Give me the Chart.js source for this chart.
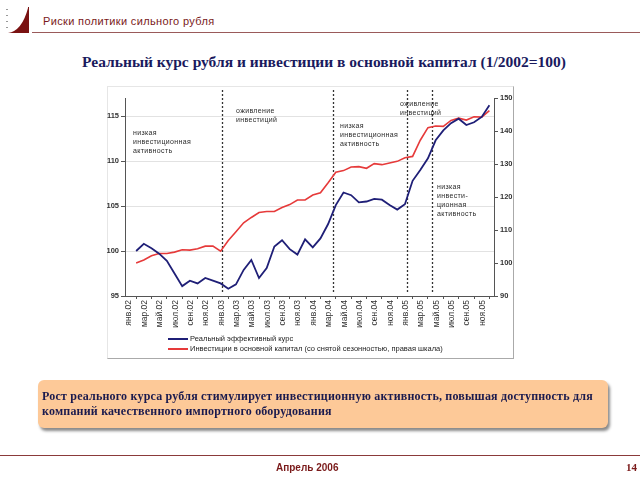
<!DOCTYPE html>
<html><head><meta charset="utf-8">
<script src="https://cdn.jsdelivr.net/npm/chart.js@4"></script>
<style>
body{margin:0;width:640px;height:480px;overflow:hidden;background:#fff;position:relative;font-family:'Liberation Sans',Arial,sans-serif;}
.abs{position:absolute;white-space:nowrap;}
#frame{left:107px;top:86px;width:405px;height:271px;border:1px solid #e6e6e6;border-right-color:#aaa;border-bottom-color:#aaa;}
#c{position:absolute;left:0;top:0;}
.ann{font-size:7px;line-height:9px;color:#2a2a2a;letter-spacing:0.35px;}
.leg{font-size:7.5px;color:#222;left:168px;height:10px;line-height:10px;}
.leg i{display:inline-block;width:20px;height:2px;vertical-align:middle;margin-right:2px;margin-top:-1px;}
</style></head><body>
<svg class="abs" style="left:2px;top:4px" width="32" height="32" viewBox="0 0 32 32">
  <path d="M6,29 Q20,27 26,4 L26,29 Z" fill="#7a1212"/>
  <line x1="26.5" y1="3" x2="26.5" y2="29" stroke="#7a1212" stroke-width="1"/>
  <g fill="#999"><rect x="4" y="5" width="2" height="1"/><rect x="4" y="11" width="2" height="1"/><rect x="4" y="17" width="2" height="1"/><rect x="4" y="23" width="2" height="1"/></g>
</svg>
<div class="abs" style="left:43px;top:15px;font-size:11px;color:#7a1a1a;letter-spacing:0.35px;">Риски политики сильного рубля</div>
<div class="abs" style="left:32px;top:32px;width:608px;height:1px;background:#9a5a5a;"></div>
<div class="abs" style="left:4px;top:53px;width:640px;text-align:center;font-family:'Liberation Serif','Times New Roman',serif;font-weight:bold;font-size:15.5px;color:#1a1a5e;">Реальный курс рубля и инвестиции в основной капитал (1/2002=100)</div>
<div id="frame" class="abs"></div>
<canvas id="c" width="640" height="480"></canvas>
<div class="abs ann" style="left:133px;top:128px;">низкая<br>инвестиционная<br>активность</div>
<div class="abs ann" style="left:236px;top:106px;">оживление<br>инвестиций</div>
<div class="abs ann" style="left:340px;top:121px;">низкая<br>инвестиционная<br>активность</div>
<div class="abs ann" style="left:400px;top:99px;">оживление<br>инвестиций</div>
<div class="abs ann" style="left:437px;top:182px;">низкая<br>инвести-<br>ционная<br>активность</div>
<div class="abs leg" style="top:334px;"><i style="background:#1f1f77"></i>Реальный эффективный курс</div>
<div class="abs leg" style="top:344px;"><i style="background:#e63a3a"></i>Инвестиции в основной капитал (со снятой сезонностью, правая шкала)</div>
<div class="abs" style="left:38px;top:380px;width:562px;height:39px;padding:9px 4px 0 4px;background:#fdc998;border-radius:6px;box-shadow:2px 3px 3px #8a8a8a;font-family:'Liberation Serif','Times New Roman',serif;font-weight:bold;font-size:12px;letter-spacing:0.2px;line-height:15px;color:#1a1a4e;white-space:normal;">Рост реального курса рубля стимулирует инвестиционную активность, повышая доступность для компаний качественного импортного оборудования</div>
<div class="abs" style="left:0;top:455px;width:640px;height:1px;background:#8b3a3a;"></div>
<div class="abs" style="left:276px;top:462px;font-size:10px;font-weight:bold;color:#7a1a1a;">Апрель 2006</div>
<div class="abs" style="left:626px;top:461px;font-size:11px;font-weight:bold;color:#7a1a1a;font-family:'Liberation Serif',serif;">14</div>
<script>
const months = ['янв.02','фев.02','мар.02','апр.02','май.02','июн.02','июл.02','авг.02','сен.02','окт.02','ноя.02','дек.02',
'янв.03','фев.03','мар.03','апр.03','май.03','июн.03','июл.03','авг.03','сен.03','окт.03','ноя.03','дек.03',
'янв.04','фев.04','мар.04','апр.04','май.04','июн.04','июл.04','авг.04','сен.04','окт.04','ноя.04','дек.04',
'янв.05','фев.05','мар.05','апр.05','май.05','июн.05','июл.05','авг.05','сен.05','окт.05','ноя.05'];
const realRate = [100.0,100.8,100.3,99.7,98.9,97.5,96.1,96.7,96.4,97.0,96.7,96.4,
95.8,96.3,97.9,99.0,97.0,98.1,100.5,101.2,100.2,99.6,101.3,100.4,
101.4,103.0,105.1,106.5,106.2,105.4,105.5,105.8,105.7,105.1,104.6,105.2,
107.8,109.0,110.3,112.3,113.4,114.2,114.7,114.0,114.3,114.9,116.2];
const investment = [100.0,100.9,102.2,102.9,102.9,103.3,104.0,103.9,104.3,105.1,105.1,103.6,
106.8,109.5,112.2,113.8,115.3,115.6,115.6,116.8,117.7,119.1,119.1,120.6,
121.3,124.3,127.5,128.0,129.1,129.2,128.7,130.1,129.8,130.3,130.8,131.9,
132.3,137.2,141.0,141.5,141.4,143.2,143.9,143.3,144.3,144.2,146.2];
const dividers = [11.2, 25.6, 35.3, 38.5];
const leftTicks = [95,100,105,110,115];
const rightTicks = [90,100,110,120,130,140,150];

const tickFont = {family:"'Liberation Sans', Arial, sans-serif", size:7.5, weight:'bold'};
const dividerPlugin = {
  id:'dividers',
  beforeDatasetsDraw(chart){
    const ctx = chart.ctx, xs = chart.scales.x, a = chart.chartArea;
    ctx.save();
    ctx.setLineDash([2,2]);
    ctx.strokeStyle = '#333';
    ctx.lineWidth = 1.3;
    dividers.forEach(d => {
      const px = Math.round(xs.getPixelForValue(d)) + 0.5;
      ctx.beginPath(); ctx.moveTo(px, a.top - 8); ctx.lineTo(px, a.bottom - 2); ctx.stroke();
    });
    ctx.restore();
  }
};
new Chart(document.getElementById('c'), {
  type:'line',
  data:{datasets:[
    {label:'Реальный эффективный курс', data: realRate.map((v,i)=>({x:i,y:v})), borderColor:'#1f1f77', borderWidth:1.8, pointRadius:0, yAxisID:'y', tension:0},
    {label:'Инвестиции в основной капитал (со снятой сезонностью, правая шкала)', data: investment.map((v,i)=>({x:i,y:v})), borderColor:'#e63a3a', borderWidth:1.6, pointRadius:0, yAxisID:'y2', tension:0}
  ]},
  options:{
    responsive:false, animation:false, events:[],
    layout:{padding:{left:100,right:121,top:98,bottom:144}},
    plugins:{legend:{display:false}, tooltip:{enabled:false}},
    scales:{
      x:{type:'linear', min:-1.45, max:46.6,
        afterBuildTicks: s => { s.ticks = months.map((m,i)=>i).filter(i=>i%2===0).map(v=>({value:v})); },
        afterFit: s => { s.height = 40; },
        ticks:{autoSkip:false, minRotation:90, maxRotation:90, callback: v => months[v], font:{family:"'Liberation Sans', Arial, sans-serif", size:8.5}, color:'#333', labelOffset:-7, padding:1},
        grid:{drawOnChartArea:false, tickLength:3, tickColor:'#555'},
        border:{color:'#555', width:1}
      },
      y:{position:'left', min:95, max:117,
        afterBuildTicks: s => { s.ticks = leftTicks.map(v=>({value:v})); },
        afterFit: s => { s.width = 25; },
        ticks:{font:tickFont, color:'#333', padding:2},
        grid:{color: c => c.tick && c.tick.value === 95 ? 'rgba(0,0,0,0)' : '#e2e2e2', tickColor:'#555', tickLength:4},
        border:{color:'#555', width:1}
      },
      y2:{position:'right', min:90, max:150,
        afterBuildTicks: s => { s.ticks = rightTicks.map(v=>({value:v})); },
        afterFit: s => { s.width = 25; },
        ticks:{font:tickFont, color:'#333', padding:2},
        grid:{drawOnChartArea:false, tickColor:'#555', tickLength:4},
        border:{color:'#555', width:1}
      }
    }
  },
  plugins:[dividerPlugin]
});
</script>
</body></html>
